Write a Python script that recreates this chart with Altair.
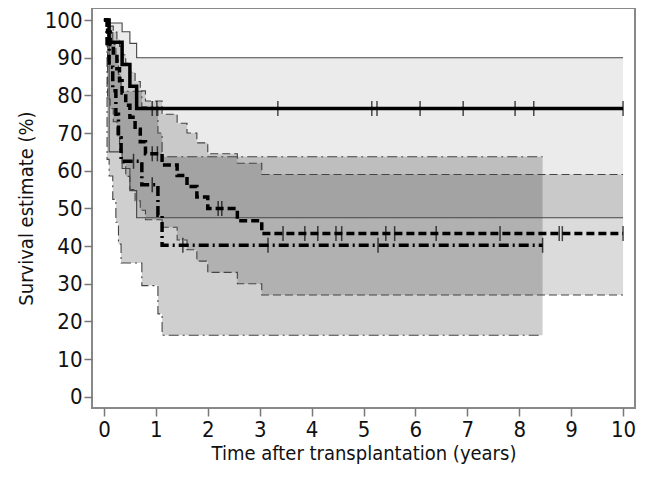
import altair as alt
import pandas as pd

FONT = "DejaVu Sans Condensed, Liberation Sans Narrow, Roboto, sans-serif"

# ---- Group A (solid) ----
a_t = [0.0, 0.10, 0.35, 0.50, 0.63, 10.0]
a_est = [100, 94.1, 88.2, 82.4, 76.5, 76.5]
a_hi = [100, 99.2, 96.9, 93.8, 90.0, 90.0]
a_lo = [100, 65.0, 60.6, 54.7, 47.5, 47.5]
a_cens_t = [0.93, 1.02, 3.35, 5.16, 5.26, 6.09, 6.92, 7.92, 8.28, 10.0]
a_cens_v = [76.5, 76.5, 76.5, 76.5, 76.5, 76.5, 76.5, 76.5, 76.5, 76.5]

# ---- Group B (dashed) ----
b_t = [0.0, 0.07, 0.12, 0.18, 0.25, 0.30, 0.35, 0.42, 0.50, 0.60, 0.70, 0.80,
       1.12, 1.41, 1.60, 1.79, 2.00, 2.57, 3.04, 10.0]
b_est = [100, 96.8, 93.5, 90.3, 87.1, 83.9, 80.6, 77.4, 74.2, 71.0, 67.7, 64.5,
         61.5, 58.7, 55.8, 53.0, 50.0, 46.7, 43.3, 43.3]
b_hi = [100, 99.5, 98.4, 96.8, 95.0, 93.0, 90.8, 88.5, 86.2, 83.7, 81.2, 78.5,
        75.0, 72.6, 70.0, 67.4, 64.5, 62.0, 59.0, 59.0]
b_lo = [100, 79.0, 76.5, 73.0, 69.0, 65.5, 62.0, 58.5, 55.0, 52.0, 49.5, 47.0,
        45.0, 41.6, 39.0, 36.0, 33.0, 30.0, 27.0, 27.0]
b_cens_t = [0.93, 1.03, 2.20, 2.27, 3.45, 3.87, 4.12, 4.47, 4.58, 5.43, 5.60,
            6.40, 7.63, 8.77, 8.83, 10.0]
b_cens_v = [64.5, 64.5, 50.0, 50.0, 43.3, 43.3, 43.3, 43.3, 43.3, 43.3, 43.3,
            43.3, 43.3, 43.3, 43.3, 43.3]

# ---- Group C (dash-dot) ----
c_t = [0.0, 0.06, 0.10, 0.17, 0.23, 0.28, 0.33, 0.73, 1.04, 1.12, 8.45]
c_est = [100, 93.75, 87.5, 81.25, 75.0, 68.75, 62.5, 56.25, 48.2, 40.2, 40.2]
c_hi = [100, 99.1, 96.7, 93.5, 89.8, 85.6, 81.1, 77.0, 70.0, 63.7, 63.7]
c_lo = [100, 63.0, 58.6, 52.4, 46.3, 40.5, 35.5, 29.5, 22.0, 16.3, 16.3]
c_cens_t = [0.57, 0.93, 1.52, 3.16, 5.28, 8.45]
c_cens_v = [62.5, 56.25, 40.2, 40.2, 40.2, 40.2]

x_ticks = [0, 1, 2, 3, 4, 5, 6, 7, 8, 9, 10]
y_ticks = [0, 10, 20, 30, 40, 50, 60, 70, 80, 90, 100]

groups = {
    "A": (a_t, a_est, a_hi, a_lo, a_cens_t, a_cens_v),
    "B": (b_t, b_est, b_hi, b_lo, b_cens_t, b_cens_v),
    "C": (c_t, c_est, c_hi, c_lo, c_cens_t, c_cens_v),
}
band_opacity = {"A": 0.08, "B": 0.14, "C": 0.19}

band_rows, est_rows, bound_rows, cens_rows = [], [], [], []
for g, (t, est, hi, lo, ct, cv) in groups.items():
    for i in range(len(t)):
        band_rows.append({"group": g, "t": t[i], "lo": lo[i], "hi": hi[i]})
        est_rows.append({"group": g, "t": t[i], "v": est[i]})
        bound_rows.append({"group": g, "key": g + "hi", "t": t[i], "v": hi[i]})
        bound_rows.append({"group": g, "key": g + "lo", "t": t[i], "v": lo[i]})
    for i in range(len(ct)):
        cens_rows.append({"group": g, "t": ct[i], "v": cv[i]})

band_df = pd.DataFrame(band_rows)
est_df = pd.DataFrame(est_rows)
bound_df = pd.DataFrame(bound_rows)
cens_df = pd.DataFrame(cens_rows)

xscale = alt.Scale(domain=[-0.23, 10.23], nice=False, zero=False)
yscale = alt.Scale(domain=[-3.0, 103.2], nice=False, zero=False)

xaxis = alt.Axis(values=x_ticks, format="d", title="Time after transplantation (years)",
                 grid=False, domain=False, tickSize=8, labelPadding=3, titlePadding=3)
yaxis = alt.Axis(values=y_ticks, format="d", title="Survival estimate (%)",
                 grid=False, domain=False, tickSize=8, labelPadding=2, titlePadding=8)

X = alt.X("t:Q", scale=xscale, axis=xaxis)
Y = alt.Y("v:Q", scale=yscale, axis=yaxis)

layers = []
for g in ["A", "B", "C"]:
    layers.append(
        alt.Chart(band_df[band_df.group == g]).mark_area(
            interpolate="step-after", color="black", opacity=band_opacity[g]
        ).encode(
            x=X,
            y=alt.Y("lo:Q", scale=yscale, axis=yaxis),
            y2="hi:Q",
        )
    )

thin_dash = alt.Scale(domain=["A", "B", "C"], range=[[1, 0], [8, 4], [10, 4, 2, 4]])
thick_dash = alt.Scale(domain=["A", "B", "C"], range=[[1, 0], [11, 5], [13, 5, 3, 5]])

bounds = alt.Chart(bound_df).mark_line(
    interpolate="step-after", color="#444444", strokeWidth=1.1
).encode(
    x=X, y=Y, detail="key:N",
    strokeDash=alt.StrokeDash("group:N", scale=thin_dash, legend=None),
)

lines = alt.Chart(est_df).mark_line(
    interpolate="step-after", color="black", strokeWidth=3.5
).encode(
    x=X, y=Y,
    strokeDash=alt.StrokeDash("group:N", scale=thick_dash, legend=None),
)

cens = alt.Chart(cens_df).mark_tick(
    orient="vertical", size=15, thickness=1.5, color="black"
).encode(x=X, y=Y)

chart = alt.layer(*layers, bounds, lines, cens).properties(
    width=543, height=400,
    autosize=alt.AutoSizeParams(type="none"),
    padding={"left": 84, "top": 0, "right": 5, "bottom": 70},
).configure_view(
    stroke="#888888", strokeWidth=2
).configure_axis(
    labelFont=FONT, titleFont=FONT, labelFontSize=22, titleFontSize=20,
    titleFontWeight="normal", labelColor="#111111", titleColor="#111111",
    tickColor="#777777", tickWidth=1.5,
)

chart.save("out.html", embed_options={"renderer": "svg", "actions": False})
